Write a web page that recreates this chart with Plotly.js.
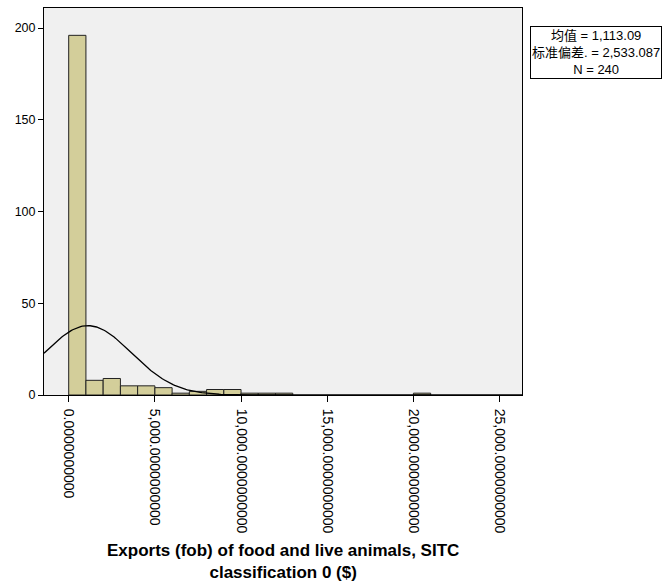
<!DOCTYPE html>
<html>
<head>
<meta charset="utf-8">
<script src="https://cdn.plot.ly/plotly-3.0.1.min.js"></script>
<style>html,body{margin:0;padding:0;background:#fff;}#chart{width:665px;height:582px;}</style>
</head>
<body>
<div id="chart"></div>
<script>
// Histogram bins (lower edges) and counts
var binStarts = [0, 1000, 2000, 3000, 4000, 5000, 6000, 7000, 8000, 9000, 10000, 11000, 12000, 20000];
var counts    = [196, 8, 9, 5, 5, 4, 1, 2, 3, 3, 1, 1, 1, 1];
var binWidth = 1000;
// Summary statistics
var meanVal = 1113.09;
var sdVal = 2533.087;
var nVal = 240;
// Axis ticks
var xTickVals = [0, 5000, 10000, 15000, 20000, 25000];
var xTickText = ["0.0000000000", "5,000.0000000000", "10,000.0000000000", "15,000.0000000000", "20,000.0000000000", "25,000.0000000000"];
var yTickVals = [0, 50, 100, 150, 200];
var statsLines = ["均值 = 1,113.09", "标准偏差. = 2,533.087", "N = 240"];
var titleLines = ["Exports (fob) of food and live animals, SITC", "classification 0 ($)"];

var xRange = [-1433, 26300];
var centers = binStarts.map(function(b){ return b + binWidth/2; });

// normal curve from the reported mean / sd
var cx = [], cy = [];
for (var i = 0; i <= 300; i++) {
  var x = xRange[0] + (xRange[1]-xRange[0]) * i / 300;
  var z = (x - meanVal) / sdVal;
  cx.push(x);
  cy.push(nVal * binWidth / (sdVal * Math.sqrt(2*Math.PI)) * Math.exp(-0.5*z*z));
}

var font = "Liberation Sans, Arial, Noto Sans CJK SC, sans-serif";
var traces = [
  {type:'bar', x:centers, y:counts, width:binWidth,
   marker:{color:'#D3CE9A', line:{color:'#222222', width:1}}, hoverinfo:'skip'},
  {type:'scatter', mode:'lines', x:cx, y:cy, line:{color:'#000', width:1.3}, hoverinfo:'skip'}
];
var layout = {
  width:665, height:582,
  margin:{l:44, r:143, t:8, b:187},
  paper_bgcolor:'#ffffff', plot_bgcolor:'#F0F0F0',
  showlegend:false, bargap:0,
  font:{family:font, size:12, color:'#000'},
  xaxis:{range:xRange, showgrid:false, zeroline:false, showline:true, linecolor:'#000', linewidth:1, mirror:true,
         ticks:'outside', ticklen:6, tickcolor:'#000', tickwidth:1, ticklabelstandoff:4,
         tickvals:xTickVals, ticktext:xTickText, tickangle:90,
         tickfont:{family:font, size:14, color:'#000'}},
  yaxis:{range:[0, 210.9], showgrid:false, zeroline:false, showline:true, linecolor:'#000', linewidth:1, mirror:true,
         ticks:'outside', ticklen:5, tickcolor:'#000', tickwidth:1,
         tickvals:yTickVals, tickfont:{family:font, size:12.5, color:'#000'}},
  annotations:[
    {xref:'paper', yref:'paper', x:1.155, y:0.885, xanchor:'center', yanchor:'middle',
     text:statsLines.join('<br>'), showarrow:false, align:'center',
     font:{family:font, size:13, color:'#000'},
     bgcolor:'#ffffff', bordercolor:'#000', borderwidth:1, borderpad:1},
    {xref:'paper', yref:'paper', x:0.5, y:(395-561)/387, xanchor:'center', yanchor:'middle',
     text:'<b>' + titleLines.join('<br>') + '</b>', showarrow:false, align:'center',
     font:{family:font, size:17, color:'#000'}}
  ]
};
Plotly.newPlot('chart', traces, layout, {displayModeBar:false, staticPlot:true});
</script>
</body>
</html>
